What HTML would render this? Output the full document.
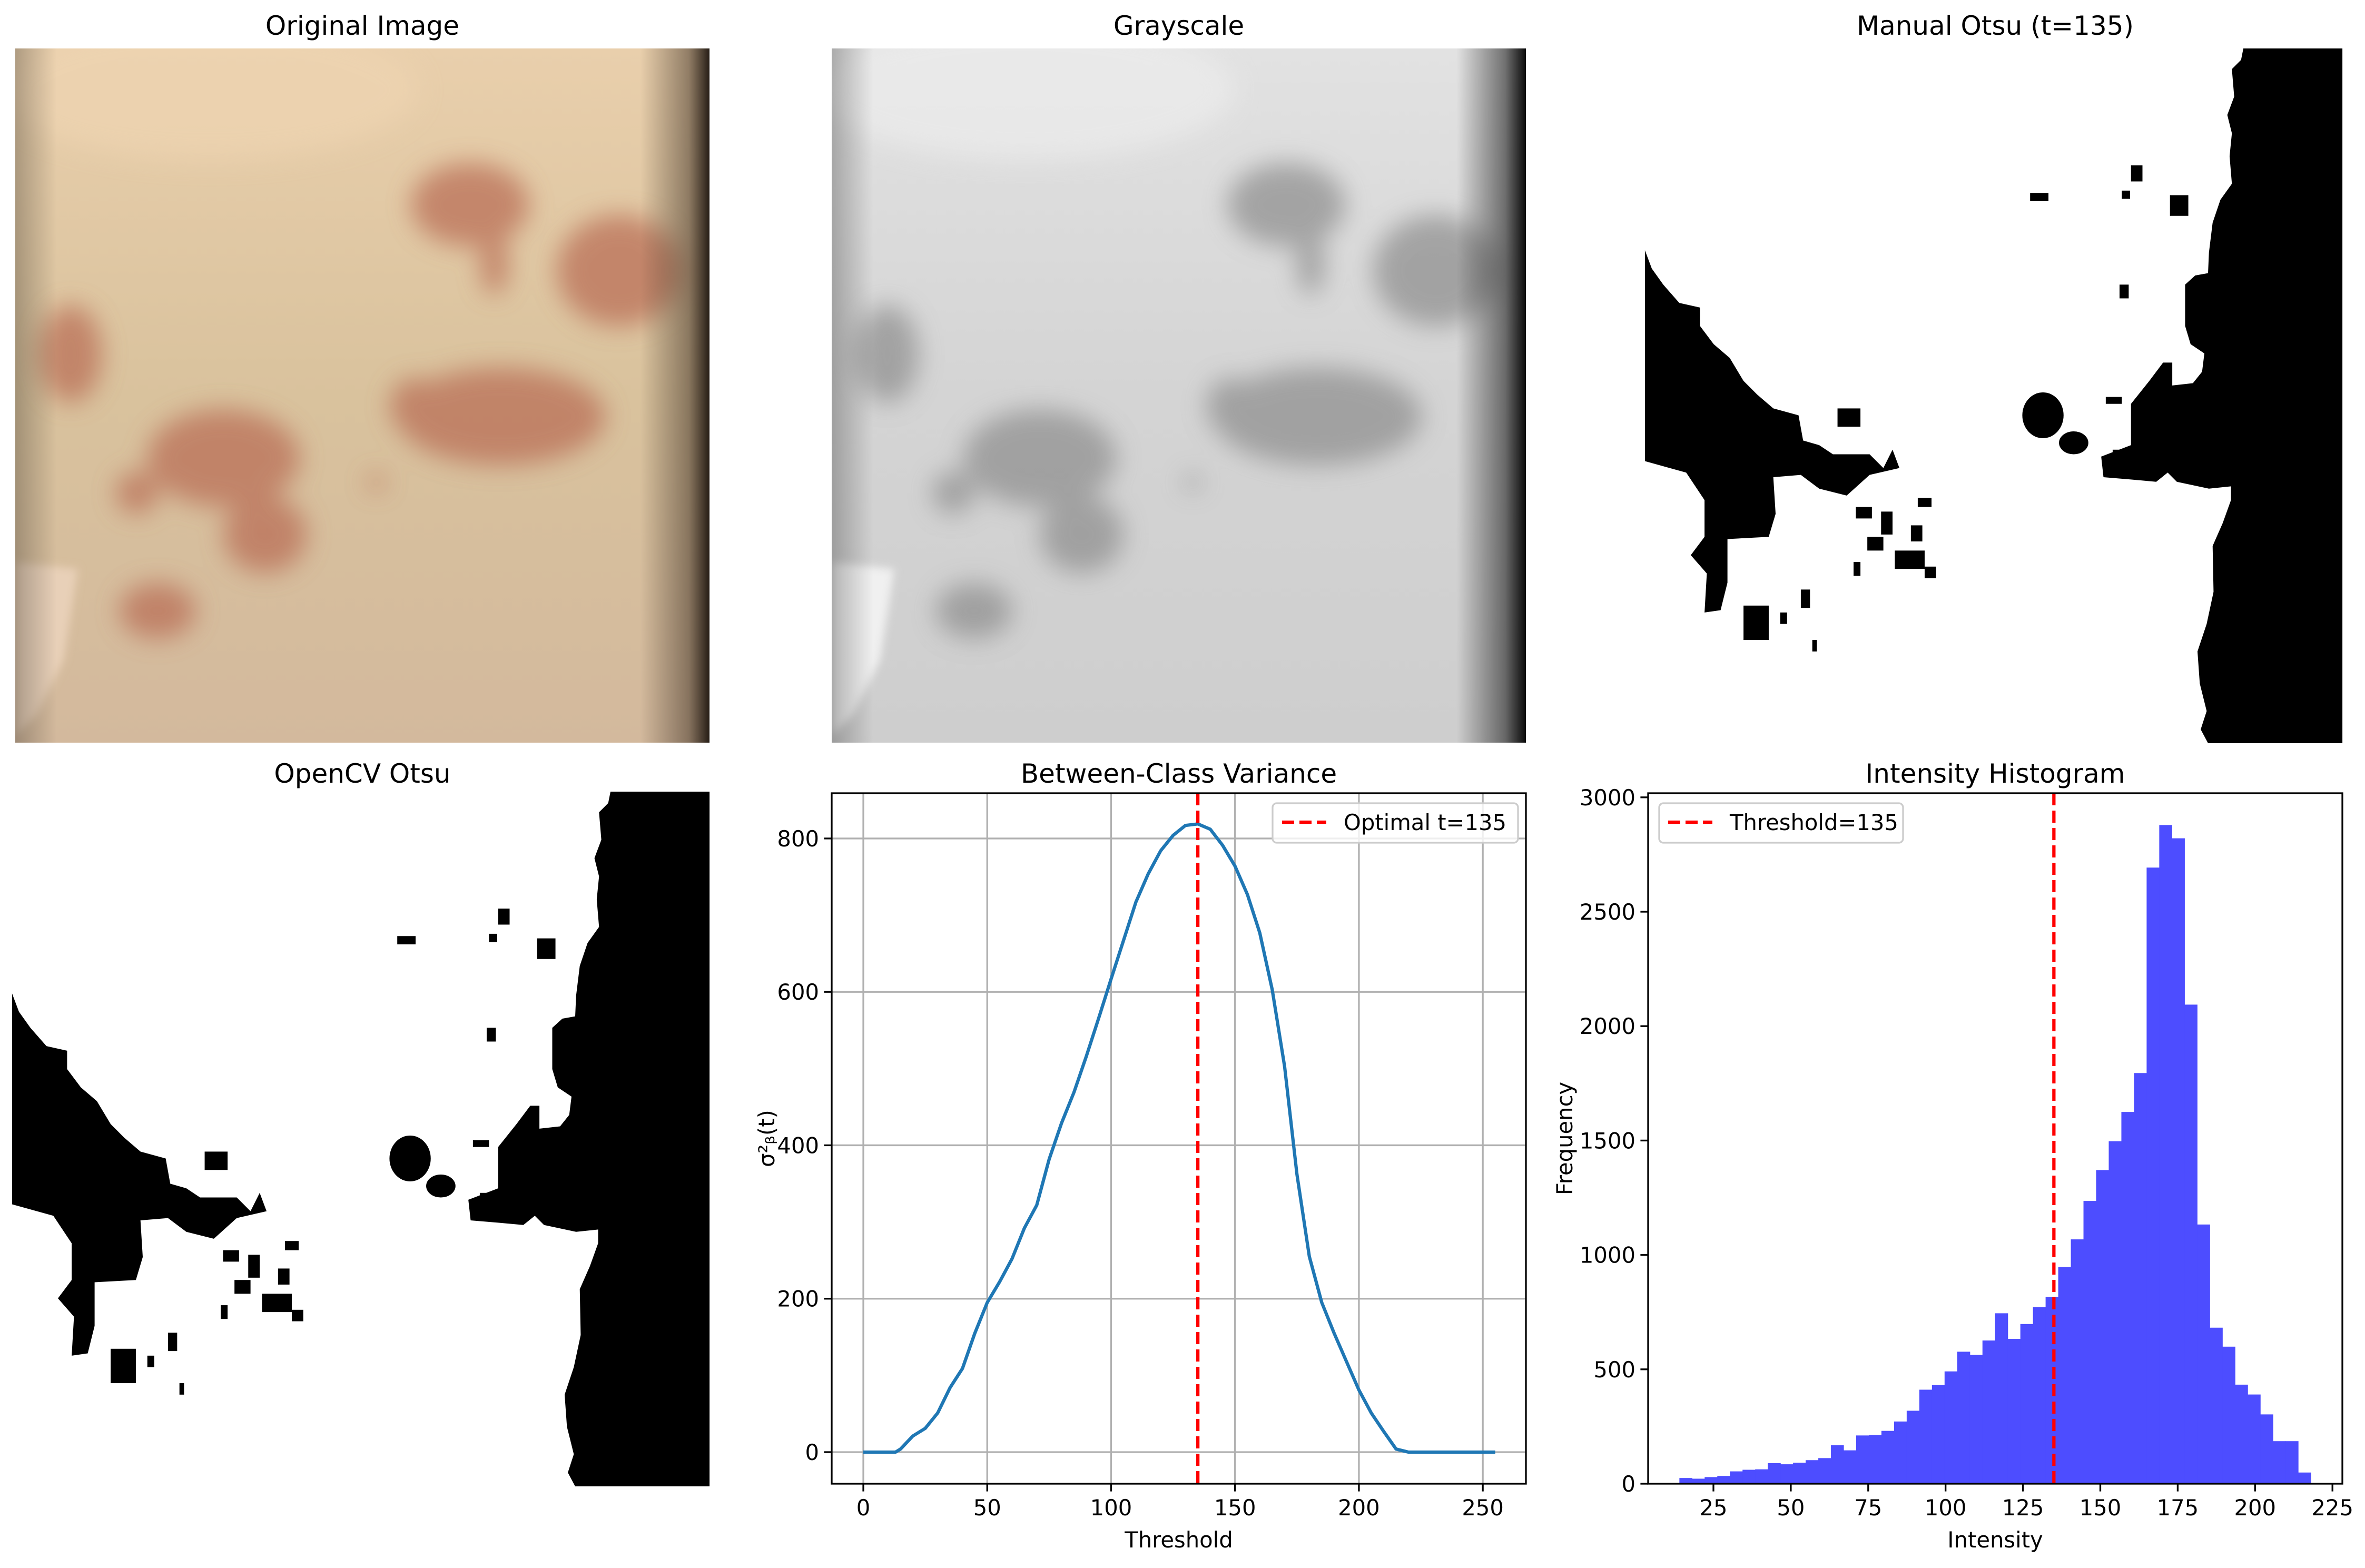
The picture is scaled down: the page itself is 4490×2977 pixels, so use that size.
<!DOCTYPE html>
<html><head><meta charset="utf-8">
<style>
html,body{margin:0;padding:0;background:#fff;}
svg{display:block;font-family:"DejaVu Sans","Liberation Sans",sans-serif;}
</style></head>
<body>
<svg id="fig" width="4490" height="2977" viewBox="0 0 4490 2977" xmlns="http://www.w3.org/2000/svg">
<defs>
  <clipPath id="panelClip"><rect x="0" y="0" width="1000" height="1000"/></clipPath>
  <filter id="blur8" x="-20%" y="-20%" width="140%" height="140%"><feGaussianBlur stdDeviation="6"/></filter>
  <filter id="blur20" x="-30%" y="-30%" width="160%" height="160%"><feGaussianBlur stdDeviation="18"/></filter>
  <linearGradient id="skinV" x1="0" y1="0" x2="0" y2="1">
    <stop offset="0" stop-color="#e9cfac"/><stop offset="0.5" stop-color="#d9c29d"/><stop offset="1" stop-color="#d3b99d"/>
  </linearGradient>
  <linearGradient id="edgeR" x1="0" y1="0" x2="1" y2="0">
    <stop offset="0" stop-color="#3a2c20" stop-opacity="0"/><stop offset="0.7" stop-color="#3a2c20" stop-opacity="0.5"/><stop offset="1" stop-color="#1c140e" stop-opacity="0.95"/>
  </linearGradient>
  <linearGradient id="grayV" x1="0" y1="0" x2="0" y2="1">
    <stop offset="0" stop-color="#e2e2e2"/><stop offset="0.5" stop-color="#d4d4d4"/><stop offset="1" stop-color="#cecece"/>
  </linearGradient>
  <linearGradient id="edgeG" x1="0" y1="0" x2="1" y2="0">
    <stop offset="0" stop-color="#000" stop-opacity="0"/><stop offset="0.7" stop-color="#000" stop-opacity="0.5"/><stop offset="1" stop-color="#000" stop-opacity="0.95"/>
  </linearGradient>
  <linearGradient id="edgeL" x1="0" y1="0" x2="1" y2="0">
    <stop offset="0" stop-color="#000" stop-opacity="0.25"/><stop offset="1" stop-color="#000" stop-opacity="0"/>
  </linearGradient>
  <g id="rash">
    <ellipse cx="655" cy="225" rx="85" ry="60"/>
    <ellipse cx="690" cy="310" rx="20" ry="45"/>
    <ellipse cx="870" cy="320" rx="90" ry="80"/>
    <ellipse cx="700" cy="530" rx="150" ry="70"/>
    <ellipse cx="575" cy="515" rx="35" ry="40"/>
    <ellipse cx="80" cy="440" rx="45" ry="70"/>
    <ellipse cx="300" cy="590" rx="110" ry="70"/>
    <ellipse cx="360" cy="700" rx="60" ry="55"/>
    <ellipse cx="175" cy="640" rx="30" ry="30"/>
    <ellipse cx="205" cy="810" rx="55" ry="40"/>
    <ellipse cx="520" cy="625" rx="12" ry="12"/>
  </g>
  <g id="mask">
    <polygon points="1305,15 1521,15 1521,1530 1228,1530 1212,1500 1225,1460 1210,1400 1205,1330 1225,1270 1240,1200 1238,1100 1260,1050 1278,1000 1278,970 1230,975 1160,960 1140,940 1115,960 1060,955 1000,950 995,905 1060,880 1060,790 1100,740 1130,700 1150,700 1150,750 1195,745 1215,720 1220,680 1190,660 1178,620 1178,530 1200,510 1228,505 1230,460 1238,395 1255,345 1280,310 1275,250 1280,200 1270,160 1285,120 1280,60 1300,40"/>
    <ellipse cx="868" cy="815" rx="45" ry="50"/>
    <ellipse cx="935" cy="875" rx="32" ry="25"/>
    <polygon points="0,455 15,495 40,530 75,570 120,580 120,620 150,660 185,690 215,740 245,770 280,800 335,815 345,870 380,880 410,900 490,900 520,930 540,890 555,930 490,945 440,990 380,975 340,945 280,950 285,1030 270,1080 180,1085 180,1180 165,1240 130,1245 135,1160 100,1120 130,1080 130,1000 90,940 0,915"/>
    <rect x="840" y="330" width="40" height="18"/><rect x="1040" y="325" width="18" height="18"/>
    <rect x="1145" y="335" width="40" height="45"/><rect x="1060" y="270" width="25" height="35"/>
    <rect x="1035" y="530" width="20" height="30"/><rect x="1005" y="775" width="35" height="15"/>
    <rect x="420" y="800" width="50" height="40"/><rect x="595" y="995" width="30" height="20"/>
    <rect x="460" y="1015" width="35" height="25"/><rect x="580" y="1055" width="25" height="35"/>
    <rect x="485" y="1080" width="35" height="30"/><rect x="545" y="1110" width="65" height="40"/>
    <rect x="610" y="1145" width="25" height="25"/><rect x="455" y="1135" width="15" height="30"/>
    <rect x="215" y="1230" width="55" height="75"/><rect x="340" y="1195" width="20" height="40"/>
    <rect x="365" y="1305" width="10" height="25"/><rect x="295" y="1245" width="15" height="25"/>
    <rect x="515" y="1025" width="25" height="50"/><rect x="1020" y="890" width="40" height="60"/>
  </g>
</defs>

<!-- Original image -->
<g transform="translate(29,92) scale(1.318)">
 <g clip-path="url(#panelClip)">
  <rect width="1000" height="1000" fill="url(#skinV)"/>
  <ellipse cx="280" cy="60" rx="300" ry="100" fill="#f0d6b3" opacity="0.6" filter="url(#blur20)"/>
  <g fill="#b86a52" opacity="0.7" filter="url(#blur20)"><use href="#rash"/></g>
  <polygon points="0,740 90,750 70,880 30,960 0,990" fill="#e8d0b8" filter="url(#blur8)"/>
  <rect x="900" y="0" width="100" height="1000" fill="url(#edgeR)"/>
  <rect x="0" y="0" width="60" height="1000" fill="url(#edgeL)"/>
 </g>
</g>

<!-- Grayscale -->
<g transform="translate(1579,92) scale(1.318)">
 <g clip-path="url(#panelClip)">
  <rect width="1000" height="1000" fill="url(#grayV)"/>
  <ellipse cx="280" cy="60" rx="300" ry="100" fill="#efefef" opacity="0.6" filter="url(#blur20)"/>
  <g fill="#8c8c8c" opacity="0.7" filter="url(#blur20)"><use href="#rash"/></g>
  <polygon points="0,740 90,750 70,880 30,960 0,990" fill="#f0f0f0" filter="url(#blur8)"/>
  <rect x="900" y="0" width="100" height="1000" fill="url(#edgeG)"/>
  <rect x="0" y="0" width="60" height="1000" fill="url(#edgeL)"/>
 </g>
</g>

<!-- Manual Otsu -->
<g transform="translate(3129,92) scale(0.8706) translate(-7,-15)">
  <use href="#mask" fill="#000"/>
</g>
<!-- OpenCV Otsu -->
<g transform="translate(29,1503) scale(0.8706) translate(-7,-15)">
  <use href="#mask" fill="#000"/>
</g>

<g font-size="50" text-anchor="middle" fill="#000">
  <text x="688" y="66">Original Image</text>
  <text x="2238" y="66">Grayscale</text>
  <text x="3788" y="66">Manual Otsu (t=135)</text>
  <text x="688" y="1486">OpenCV Otsu</text>
  <text x="2238" y="1486">Between-Class Variance</text>
  <text x="3788" y="1486">Intensity Histogram</text>
</g>

<g id="varChart"></g>
<g id="histChart"></g>
</svg>

<script>
const varThresholds = [0,5,10,13,15,20,25,30,35,40,45,50,55,60,65,70,75,80,85,90,95,100,105,110,115,120,125,130,135,140,145,150,155,160,165,170,175,180,185,190,195,200,205,210,215,220,230,240,255];
const varValues = [0,0,0,0,4,21,31,51,84,109,155,195,222,252,292,322,382,429,469,516,566,617,667,717,754,784,804,817,819,812,791,764,727,677,603,503,362,255,195,155,118,81,51,27,4,0,0,0,0];
const varXTicks = [0,50,100,150,200,250];
const varYTicks = [0,200,400,600,800];
const optimalT = [135];

const histStart = 14, histBinWidth = 4.08;
const histCounts = [25,22,29,34,54,61,63,90,85,92,103,112,168,146,211,213,231,272,319,411,431,491,577,563,626,745,633,698,772,817,947,1068,1236,1371,1497,1625,1795,2693,2879,2821,2094,1133,682,599,433,390,303,186,186,49];
const histXTicks = [25,50,75,100,125,150,175,200,225];
const histYTicks = [0,500,1000,1500,2000,2500,3000];

const NS = "http://www.w3.org/2000/svg";
function mk(parent, tag, attrs, text) {
  const e = document.createElementNS(NS, tag);
  for (const k in attrs) e.setAttribute(k, attrs[k]);
  if (text !== undefined) e.textContent = text;
  parent.appendChild(e);
  return e;
}

// ---------- Variance chart ----------
(function(){
  const g = document.getElementById('varChart');
  const L=1579, R=2897, T=1506, B=2817;
  const xMin=-12.76, xMax=267.4, yMin=-41.2, yMax=859;
  const X = v => L + (v - xMin) / (xMax - xMin) * (R - L);
  const Y = v => B - (v - yMin) / (yMax - yMin) * (B - T);
  varXTicks.forEach(t => {
    const l = mk(g,'line',{x1:X(t),x2:X(t),y1:T,y2:B,stroke:'#b0b0b0','stroke-width':3.3});
    
    
  });
  varYTicks.forEach(t => {
    const l = mk(g,'line',{x1:L,x2:R,y1:Y(t),y2:Y(t),stroke:'#b0b0b0','stroke-width':3.3});
    
    
  });
  let d = '';
  varThresholds.forEach((t,i) => { d += (i?'L':'M') + X(t).toFixed(1) + ',' + Y(varValues[i]).toFixed(1); });
  const p = mk(g,'path',{d:d,fill:'none',stroke:'#1f77b4','stroke-width':6.25,'stroke-linejoin':'round'});
  
  
  optimalT.forEach(t => {
    const l = mk(g,'line',{x1:X(t),x2:X(t),y1:T,y2:B,stroke:'#ff0000','stroke-width':6.25,'stroke-dasharray':'23 10'});
    
    
  });
  const f = mk(g,'rect',{x:L,y:T,width:R-L,height:B-T,fill:'none',stroke:'#000','stroke-width':3.3});
  
  
  varXTicks.forEach(t => {
    mk(g,'line',{x1:X(t),x2:X(t),y1:B,y2:B+14.6,stroke:'#000','stroke-width':3.3});
    const tx = mk(g,'text',{x:X(t),y:B+60,'font-size':41.7,'text-anchor':'middle'},String(t));
    
    
  });
  varYTicks.forEach(t => {
    mk(g,'line',{x1:L-14.6,x2:L,y1:Y(t),y2:Y(t),stroke:'#000','stroke-width':3.3});
    const tx = mk(g,'text',{x:L-24,y:Y(t)+15,'font-size':41.7,'text-anchor':'end'},String(t));
    
    
  });
  const xl = mk(g,'text',{x:(L+R)/2,y:2938,'font-size':41.7,'text-anchor':'middle'},'Threshold');
  
  
  const yl = mk(g,'text',{x:0,y:0,'font-size':41.7,'text-anchor':'middle',transform:'translate(1470,'+((T+B)/2)+') rotate(-90)'},'σ²ᵦ(t)');
  
  
  const lg = mk(g,'g',{});
  
  
  mk(lg,'rect',{x:2416,y:1525,width:466,height:75,rx:8,fill:'#fff','fill-opacity':0.8,stroke:'#cccccc','stroke-width':3.3});
  mk(lg,'line',{x1:2434,x2:2518,y1:1561,y2:1561,stroke:'#ff0000','stroke-width':6.25,'stroke-dasharray':'23 10'});
  mk(lg,'text',{x:2551,y:1576,'font-size':41.7},'Optimal t=135');
})();

// ---------- Histogram chart ----------
(function(){
  const g = document.getElementById('histChart');
  const L=3129, R=4447, T=1506, B=2817;
  const xMin=3.9, xMax=228.2, yMin=0, yMax=3018;
  const X = v => L + (v - xMin) / (xMax - xMin) * (R - L);
  const Y = v => B - (v - yMin) / (yMax - yMin) * (B - T);
  histCounts.forEach((c,i) => {
    const x0 = X(histStart + i*histBinWidth), x1 = X(histStart + (i+1)*histBinWidth);
    const r = mk(g,'rect',{x:x0,y:Y(c),width:x1-x0+0.6,height:Y(0)-Y(c),fill:'#4d4dff'});
    
    
  });
  optimalT.forEach(t => {
    const l = mk(g,'line',{x1:X(t),x2:X(t),y1:T,y2:B,stroke:'#ff0000','stroke-width':6.25,'stroke-dasharray':'23 10'});
    
    
  });
  const f = mk(g,'rect',{x:L,y:T,width:R-L,height:B-T,fill:'none',stroke:'#000','stroke-width':3.3});
  
  
  histXTicks.forEach(t => {
    mk(g,'line',{x1:X(t),x2:X(t),y1:B,y2:B+14.6,stroke:'#000','stroke-width':3.3});
    const tx = mk(g,'text',{x:X(t),y:B+60,'font-size':41.7,'text-anchor':'middle'},String(t));
    
    
  });
  histYTicks.forEach(t => {
    mk(g,'line',{x1:L-14.6,x2:L,y1:Y(t),y2:Y(t),stroke:'#000','stroke-width':3.3});
    const tx = mk(g,'text',{x:L-24,y:Y(t)+15,'font-size':41.7,'text-anchor':'end'},String(t));
    
    
  });
  const xl = mk(g,'text',{x:(L+R)/2,y:2938,'font-size':41.7,'text-anchor':'middle'},'Intensity');
  
  
  const yl = mk(g,'text',{x:0,y:0,'font-size':41.7,'text-anchor':'middle',transform:'translate(2985,'+((T+B)/2)+') rotate(-90)'},'Frequency');
  
  
  const lg = mk(g,'g',{});
  
  
  mk(lg,'rect',{x:3150,y:1525,width:463,height:75,rx:8,fill:'#fff','fill-opacity':0.8,stroke:'#cccccc','stroke-width':3.3});
  mk(lg,'line',{x1:3167,x2:3251,y1:1561,y2:1561,stroke:'#ff0000','stroke-width':6.25,'stroke-dasharray':'23 10'});
  mk(lg,'text',{x:3284,y:1576,'font-size':41.7},'Threshold=135');
})();
</script>
</body></html>
